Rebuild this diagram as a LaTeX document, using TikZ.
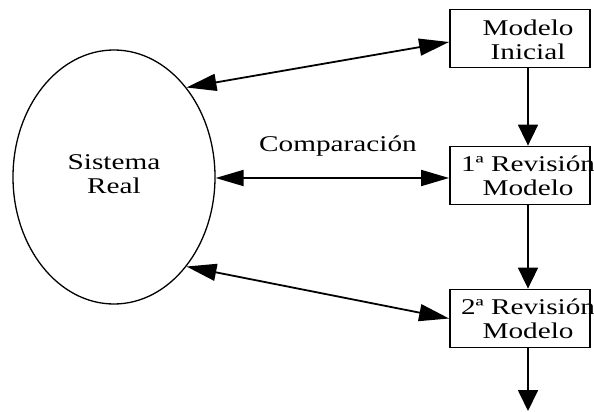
\documentclass[tikz,border=0pt]{standalone}
\usepackage{fontspec}
\setmainfont{Liberation Serif}
\usetikzlibrary{arrows.meta,shapes.geometric}
\newcommand{\lbtext}[1]{\scalebox{1.3}[1]{\fontsize{22.5}{24}\selectfont\begin{tabular}{@{}c@{}}#1\end{tabular}}}
\begin{document}
\begin{tikzpicture}[x=1pt,y=-1pt,
  ell/.style={draw, ellipse, line width=1.3pt, minimum width=202pt, minimum height=254pt, inner sep=0pt},
  boxnode/.style={draw, line width=1.8pt, minimum width=140pt, minimum height=58pt, inner sep=0pt},
  lbl/.style={inner sep=0pt},
  hh/.tip={Triangle[length=28pt,width=16pt]},
  dh/.tip={Triangle[length=30pt,width=17pt]},
  vh/.tip={Triangle[length=21pt,width=20pt]},
  darr/.style={line width=1.8pt, hh-hh},
  diagarr/.style={line width=1.8pt, dh-dh},
  varr/.style={line width=1.8pt, -vh}]
\useasboundingbox (0,0) rectangle (594,412);
\node[ell] (sys) at (114,177) {\raisebox{-3.5pt}{\lbtext{Sistema\\Real}}};
\node[boxnode] (b0) at (520,38.5) {};
\node[boxnode] (b1) at (520,175.5) {};
\node[boxnode] (b2) at (520,318.5) {};
\node[lbl] (t0) at (528,43) {\lbtext{Modelo\\Inicial}};
\node[lbl] (t1) at (528,179) {\lbtext{1ª Revisión\\Modelo}};
\node[lbl] (t2) at (528,322) {\lbtext{2ª Revisión\\Modelo}};
\node[lbl] (cmp) at (338,147) {\lbtext{Comparación}};
\coordinate (end) at (528,411);
\draw[diagarr] (sys.51) -- ([yshift=-3.5pt]b0.west);
\draw[darr] ([yshift=-1pt]sys.east) -- ([yshift=-1pt]sys.east -| b1.west);
\draw[diagarr] (sys.-51) -- (b2.west);
\draw[varr] (t0 |- b0.south) -- (t1 |- b1.north);
\draw[varr] (t1 |- b1.south) -- (t2 |- b2.north);
\draw[varr] (t2 |- b2.south) -- (end);
\end{tikzpicture}
\end{document}
